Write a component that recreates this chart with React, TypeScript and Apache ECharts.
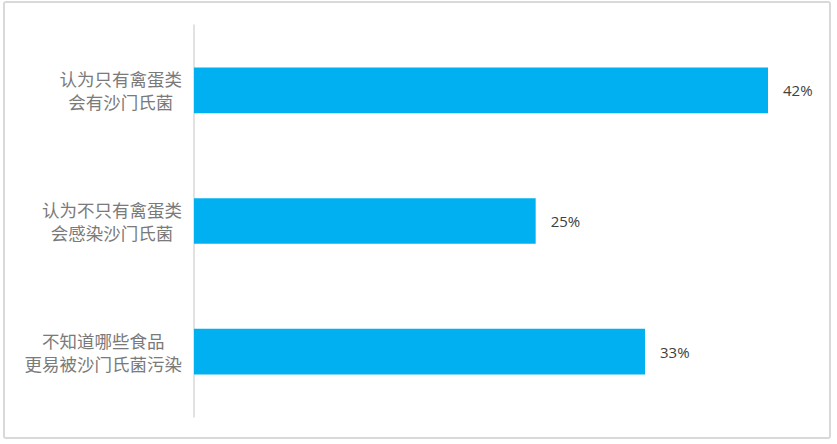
import React, { useEffect, useRef } from "react";
import * as echarts from "echarts";

const categories = [
  ["认为只有禽蛋类", "会有沙门氏菌"],
  ["认为不只有禽蛋类", "会感染沙门氏菌"],
  ["不知道哪些食品", "更易被沙门氏菌污染"],
];
const values = [42, 25, 33];

export default function App() {
  const ref = useRef<HTMLDivElement>(null);
  useEffect(() => {
    const chart = echarts.init(ref.current!, null, { renderer: "svg" });
    chart.setOption({
      animation: false,
      backgroundColor: "#ffffff",
      graphic: [
        {
          type: "rect",
          shape: { x: 4, y: 2, width: 826, height: 436, r: 2 },
          style: { fill: "none", stroke: "#d9d9d9", lineWidth: 2 },
          silent: true,
        },
      ],
      grid: { left: 194, top: 25, width: 615, height: 392 },
      xAxis: {
        type: "value",
        min: 0,
        max: 45,
        show: false,
      },
      yAxis: {
        type: "category",
        inverse: true,
        data: categories.map((c) => c.join("\n")),
        axisLine: { show: true, lineStyle: { color: "#d9d9d9", width: 1.5 } },
        axisTick: { show: false },
        axisLabel: {
          margin: 12,
          align: "right",
          formatter: (v: string) =>
            v
              .split("\n")
              .map((l) => "{a|" + l + "}")
              .join("\n"),
          rich: {
            a: {
              align: "center",
              fontSize: 17.5,
              lineHeight: 23,
              color: "#7a7a7a",
              fontFamily: "Noto Sans CJK SC",
            },
          },
        },
      },
      series: [
        {
          type: "bar",
          data: values,
          barCategoryGap: "65%",
          itemStyle: { color: "#00b0f0" },
          label: {
            show: true,
            position: "right",
            distance: 15,
            formatter: "{c}%",
            fontSize: 15,
            color: "#404040",
            fontFamily: "Open Sans, Noto Sans, sans-serif",
          },
        },
      ],
    });
    return () => chart.dispose();
  }, []);
  return (
    <div
      ref={ref}
      style={{ position: "absolute", left: 0, top: 0, width: 837, height: 444 }}
    />
  );
}
